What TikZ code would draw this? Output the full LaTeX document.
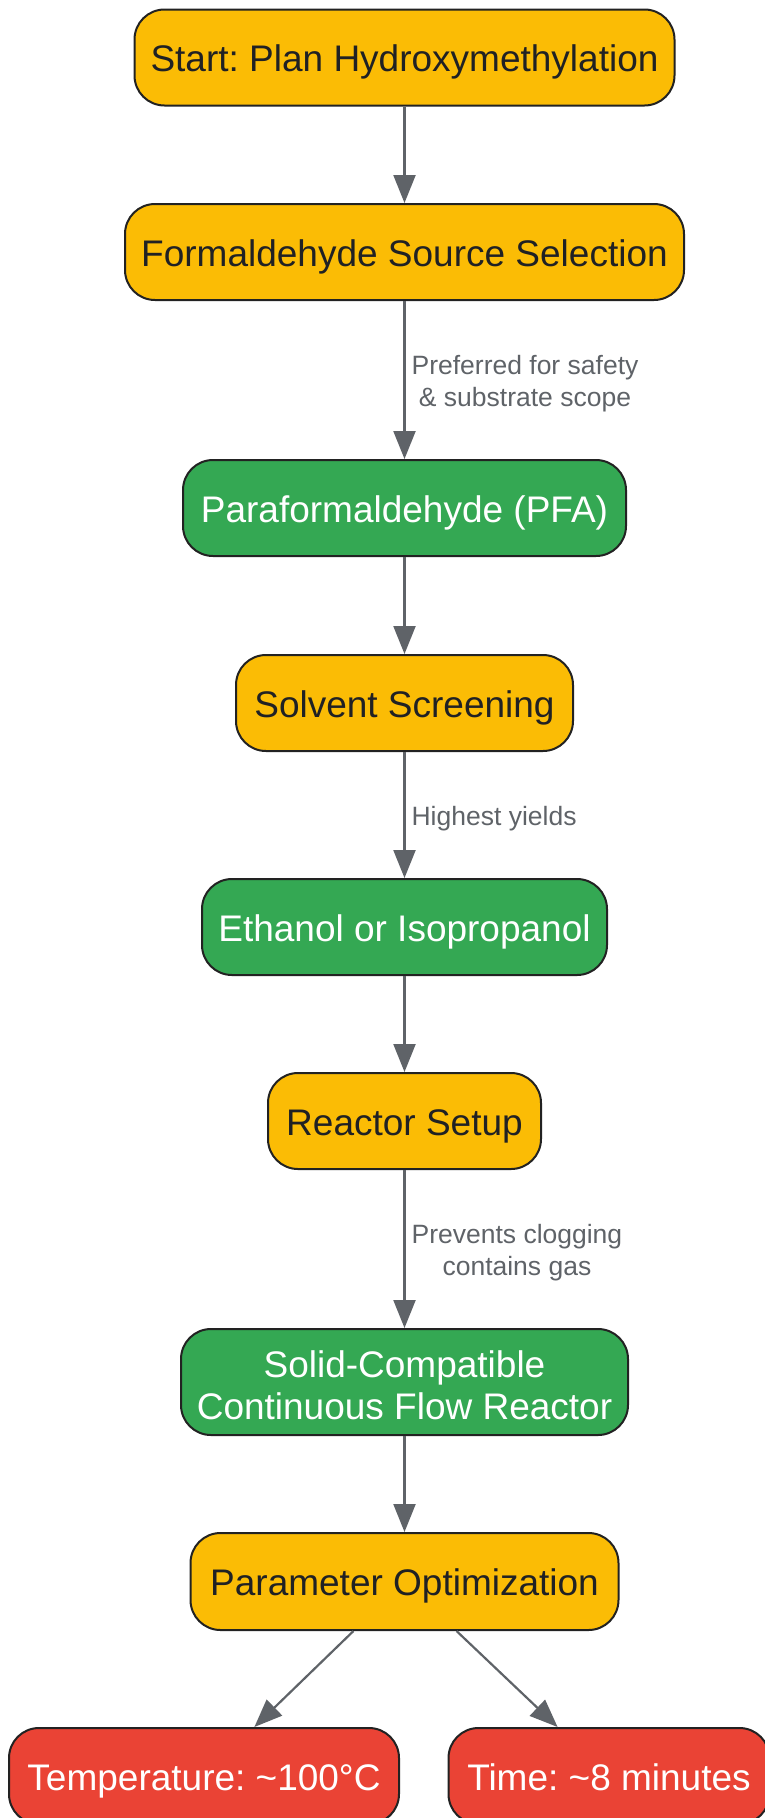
\documentclass[tikz,border=0pt]{standalone}
\usepackage{fontspec}
\setmainfont{Liberation Sans}
\usetikzlibrary{arrows.meta}
\definecolor{gyellow}{HTML}{FBBC05}
\definecolor{ggreen}{HTML}{34A853}
\definecolor{gred}{HTML}{EA4335}
\definecolor{edgegray}{HTML}{5F6368}
\definecolor{darktext}{HTML}{202124}
\definecolor{boxborder}{HTML}{222222}
\frenchspacing
\begin{document}
\begin{tikzpicture}[x=1pt,y=-1pt,
 box/.style={draw=boxborder, line width=2pt, rounded corners=30pt, minimum height=96pt, inner sep=0pt, font=\fontsize{37}{42}\selectfont\frenchspacing, align=center},
 oneline/.style={text height=36.5pt, text depth=8pt},
 ybox/.style={box, fill=gyellow, text=darktext},
 gbox/.style={box, fill=ggreen, text=white},
 rbox/.style={box, fill=gred, text=white},
 arr/.style={draw=edgegray, line width=2.2pt, -{Triangle[length=28pt,width=22pt]}},
 lbl/.style={font=\fontsize{26.5}{32.5}\selectfont, text=edgegray, align=center, inner sep=0pt, anchor=west, xshift=6pt, yshift=-3.5pt}]
\useasboundingbox (0,0) rectangle (765,1818);
\node[ybox, oneline, minimum width=540pt] (n1) at (404.5,57.5) {Start: Plan Hydroxymethylation};
\node[ybox, oneline, minimum width=559pt] (n2) at (404.5,252) {Formaldehyde Source Selection};
\node[gbox, oneline, minimum width=443pt] (n3) at (404.5,508) {Paraformaldehyde (PFA)};
\node[ybox, oneline, minimum width=337pt] (n4) at (404.5,703) {Solvent Screening};
\node[gbox, oneline, minimum width=405pt] (n5) at (404.5,927) {Ethanol or Isopropanol};
\node[ybox, oneline, minimum width=273pt] (n6) at (404.5,1121) {Reactor Setup};
\node[gbox, minimum width=447pt, minimum height=106pt] (n7) at (404.5,1382) {\rule{0pt}{33pt}Solid-Compatible\\Continuous Flow Reactor};
\node[ybox, oneline, minimum width=428pt, minimum height=97pt] (n8) at (404.5,1581.5) {Parameter Optimization};
\node[rbox, oneline, minimum width=390pt] (n9) at (204,1776) {Temperature: \textasciitilde100°C};
\node[rbox, oneline, minimum width=321pt] (n10) at (609,1776) {Time: \textasciitilde8 minutes};
\draw[arr] (n1) -- (n2);
\draw[arr] (n2) -- node[lbl] {Preferred for safety\\\& substrate scope} (n3);
\draw[arr] (n3) -- (n4);
\draw[arr] (n4) -- node[lbl] {Highest yields} (n5);
\draw[arr] (n5) -- (n6);
\draw[arr] (n6) -- node[lbl] {Prevents clogging\\contains gas} (n7);
\draw[arr] (n7) -- (n8);
\draw[arr] (n8) -- (n9);
\draw[arr] (n8) -- (n10);
\end{tikzpicture}
\end{document}
